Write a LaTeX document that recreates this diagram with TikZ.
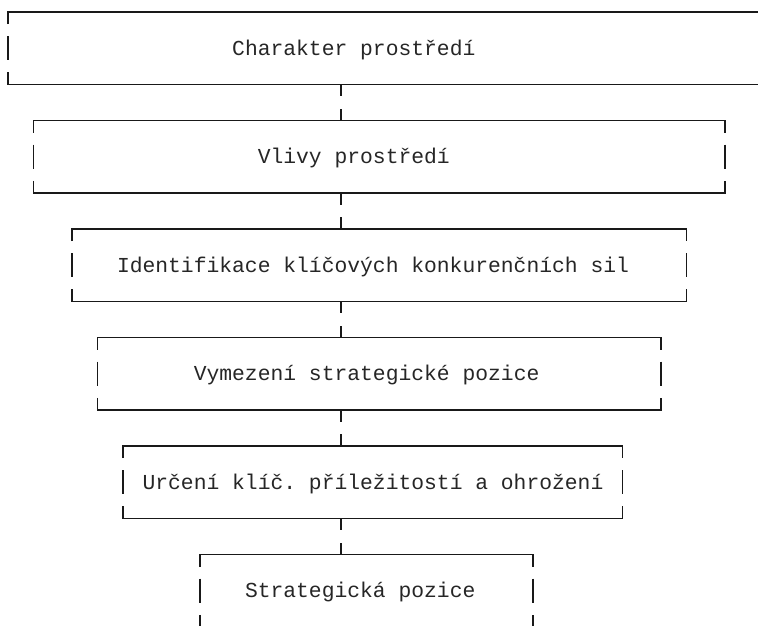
\documentclass[tikz,border=0pt]{standalone}
\usepackage{fontspec}
\setmonofont{Liberation Mono}
\begin{document}
\begin{tikzpicture}[x=1pt,y=-1pt,
  bord/.style={draw=black!90, line width=1.6pt, line cap=butt},
  lbl/.style={anchor=base west, inner sep=0pt, font=\ttfamily\fontsize{21.33}{24}\selectfont, text=black!85}]
\useasboundingbox (0,0) rectangle (758,625);
\clip (0,0) rectangle (758,625);
\foreach \k/\l/\r/\c/\txt in {
  0/0/59/18/Charakter prostředí,
  1/2/56/20/Vlivy prostředí,
  2/5/53/9/Identifikace klíčových konkurenčních sil,
  3/7/51/15/Vymezení strategické pozice,
  4/9/48/11/Určení klíč. příležitostí a ohrožení,
  5/15/41/19/Strategická pozice} {
  \pgfmathsetmacro\xl{8+12.8*\l}
  \pgfmathsetmacro\xr{8+12.8*\r}
  \pgfmathsetmacro\yt{12+108.5*\k}
  \pgfmathsetmacro\ym{\yt+36.17}
  \pgfmathsetmacro\yb{\yt+72.33}
  \pgfmathsetmacro\xc{1.6+12.8*\c}
  \node[lbl] (t\k) at (\xc,\ym+7) {\txt};
  \coordinate (top\k) at (340.8,\yt);
  \coordinate (bot\k) at (340.8,\yb);
  \draw[bord] (\xl,\yt+12) -- (\xl,\yt) -- (\xr,\yt) -- (\xr,\yt+12);
  \draw[bord] (\xl,\ym-12) -- (\xl,\ym+12);
  \draw[bord] (\xr,\ym-12) -- (\xr,\ym+12);
  \draw[bord] (\xl,\yb-12) -- (\xl,\yb) -- (\xr,\yb) -- (\xr,\yb-12);
}
\foreach \a/\b in {0/1,1/2,2/3,3/4,4/5} {
  \draw[bord] (bot\a) -- ++(0,12);
  \draw[bord] (top\b) -- ++(0,-12);
}
\end{tikzpicture}
\end{document}
